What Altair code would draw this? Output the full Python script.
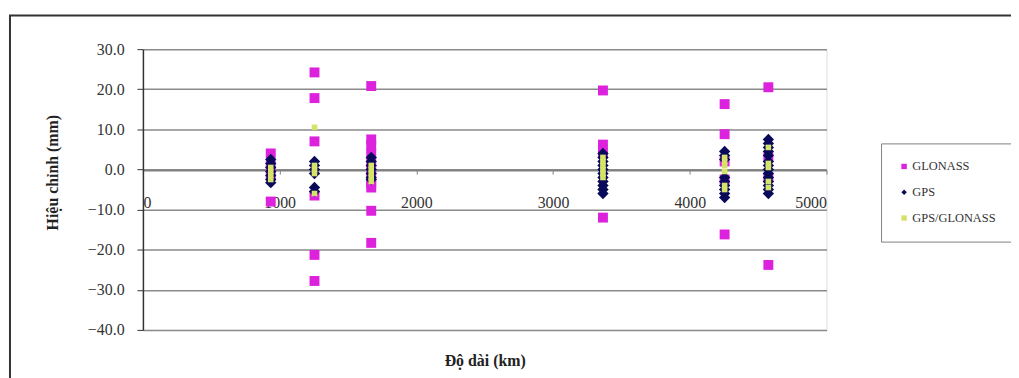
import altair as alt
import pandas as pd

# distances of the six baselines (km)
distances = [935, 1255, 1670, 3365, 4255, 4575]

# corrections (mm) per baseline, per solution
glonass = [
    [4.0, 1.0, -1.5, -8.0],
    [24.2, 17.8, 7.0, -6.5, -21.3, -27.8],
    [20.8, 7.5, 6.0, 4.0, 2.0, 0.0, -2.0, -3.5, -4.5, -10.3, -18.3],
    [19.7, 6.2, 4.0, -12.0],
    [16.3, 8.8, 2.0, -2.5, -16.2],
    [20.5, 3.0, -2.0, -23.8],
]
gps = [
    [2.5, 1.5, 0.5, -0.5, -1.5, -2.5, -3.3],
    [2.0, 1.0, 0.0, -1.0, -4.5, -5.5],
    [3.0, 2.0, 1.0, 0.0, -1.0, -2.0, -2.5],
    [4.0, 3.0, 2.0, 1.0, 0.0, -1.0, -2.0, -3.0, -4.0, -5.0, -6.0],
    [4.5, 3.5, 2.5, -2.0, -3.0, -4.0, -5.0, -6.0, -7.0],
    [7.5, 6.5, 5.5, 4.5, 3.5, 2.0, 1.0, 0.0, -1.0, -2.0, -3.0, -4.0, -5.0, -6.0],
]
gps_glonass = [
    [0.5, -0.5, -1.5, -2.5],
    [10.5, 1.0, 0.0, -1.0, -6.0],
    [1.0, 0.0, -1.0, -2.0, -3.0],
    [3.0, 2.0, 1.0, 0.0, -1.0, -2.0],
    [3.0, 2.0, 1.0, -0.5, -4.0, -5.0],
    [5.5, 1.5, 0.5, -3.0, -4.5],
]

series_names = ["GLONASS", "GPS", "GPS/GLONASS"]
series_values = [glonass, gps, gps_glonass]
series_colors = ["#DD22DD", "#0A0A5A", "#D6E36A"]
series_shapes = ["square", "diamond", "square"]
series_sizes = [100, 130, 32]
x_ticks = [0, 1000, 2000, 3000, 4000, 5000]
y_ticks = [-40, -30, -20, -10, 0, 10, 20, 30]

rows = []
for name, vals in zip(series_names, series_values):
    for d, lst in zip(distances, vals):
        for v in lst:
            rows.append({"km": d, "mm": v, "series": name})
df = pd.DataFrame(rows)

W, H = 689, 283
serif = "Liberation Serif"

x_enc = alt.X("km:Q", scale=alt.Scale(domain=[0, 5000], nice=False, zero=False),
              axis=alt.Axis(values=x_ticks, format="d", offset=-161, grid=False,
                            tickSize=4, labelPadding=21, labelFontSize=16,
                            labelFont=serif, labelColor="#333333",
                            domainColor="#808080", domainWidth=1.5,
                            tickColor="#808080",
                            title="Độ dài (km)", titleFont=serif, titleFontSize=16,
                            titleFontWeight="bold", titleColor="#222222",
                            titleY=192, titleBaseline="middle"))
y_enc = alt.Y("mm:Q", scale=alt.Scale(domain=[-40, 30], nice=False, zero=False),
              axis=alt.Axis(values=y_ticks, format=".1f", grid=True,
                            gridColor="#8a8a8a", gridWidth=1.5,
                            tickSize=6, labelPadding=13, labelFontSize=16,
                            labelFont=serif, labelColor="#333333",
                            domainColor="#333333", domainWidth=1.5,
                            tickColor="#333333",
                            title="Hiệu chỉnh (mm)", titleFont=serif, titleFontSize=16,
                            titleFontWeight="bold", titleColor="#222222",
                            titleX=-91, titleY=124, titleAlign="center",
                            titleBaseline="middle"))
color_enc = alt.Color("series:N",
                      scale=alt.Scale(domain=series_names, range=series_colors),
                      legend=alt.Legend(title=None, orient="none", legendX=744, legendY=95,
                                        strokeColor="#808080", fillColor="white",
                                        padding=17, rowPadding=13, labelFont=serif,
                                        labelFontSize=12.5, labelColor="#333333",
                                        symbolSize=30, labelOffset=2))
shape_enc = alt.Shape("series:N",
                      scale=alt.Scale(domain=series_names, range=series_shapes))

layers = []
frame = alt.Chart(pd.DataFrame({"a": [0]})).mark_rect(
    filled=False, stroke="#333333", strokeWidth=2
).encode(x=alt.value(-134), x2=alt.value(900), y=alt.value(-34), y2=alt.value(400))
layers.append(frame)

for name, size in zip(series_names, series_sizes):
    layers.append(
        alt.Chart(df).transform_filter(alt.datum.series == name)
        .mark_point(filled=True, opacity=1, size=size)
        .encode(x=x_enc, y=y_enc, color=color_enc, shape=shape_enc)
    )

chart = alt.layer(*layers).properties(
    width=W, height=H,
    autosize=alt.AutoSizeParams(type="none"),
    padding={"left": 136, "top": 40, "right": 186, "bottom": 47},
).configure_view(stroke="#808080", strokeWidth=1.5).configure(background="white")

chart.save("out.html", embed_options={"renderer": "svg", "actions": False})
